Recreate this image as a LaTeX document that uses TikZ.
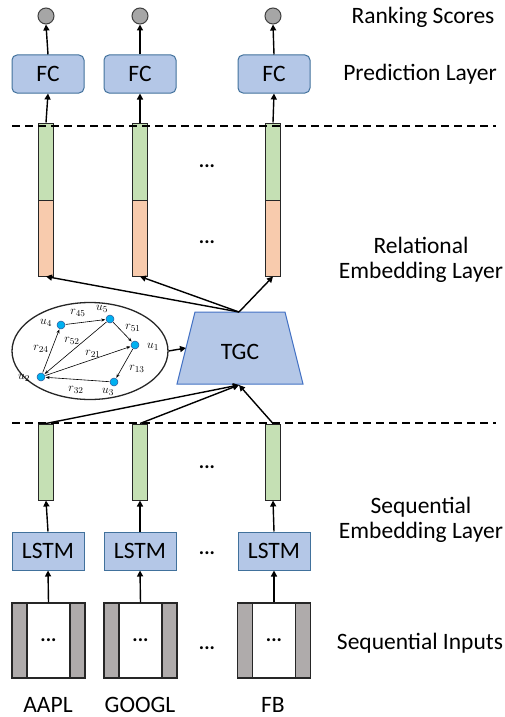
\documentclass[tikz,border=0pt]{standalone}
\usepackage{fontspec}
\setmainfont{Carlito}
\usetikzlibrary{arrows.meta,shapes.geometric}
\definecolor{boxfill}{HTML}{B4C7E7}
\definecolor{boxdraw}{HTML}{41719C}
\definecolor{tgcdraw}{HTML}{4472C4}
\definecolor{gfill}{HTML}{C5E0B4}
\definecolor{ofill}{HTML}{F8CBAD}
\definecolor{scorefill}{HTML}{A6A6A6}
\definecolor{stripfill}{HTML}{AFABAB}
\definecolor{gnode}{HTML}{00B0F0}
\definecolor{gnodedraw}{HTML}{2F5597}
\tikzset{
  big/.style={font=\fontsize{23.5}{25}\selectfont},
  score/.style={circle, draw={black!75}, fill=scorefill, line width=1pt, minimum size=16pt, inner sep=0pt},
  fcbox/.style={draw=boxdraw, fill=boxfill, line width=1pt, rounded corners=5pt, minimum width=72pt, minimum height=38pt, inner sep=0pt, big},
  lstmbox/.style={draw=boxdraw, fill=boxfill, line width=1pt, minimum width=72pt, minimum height=38pt, inner sep=0pt, big},
  gbar/.style={draw=black!85, fill=gfill, line width=1pt, minimum width=15pt, inner sep=0pt},
  obar/.style={draw=black!85, fill=ofill, line width=1pt, minimum width=15pt, inner sep=0pt},
  inbox/.style={draw=black!85, fill=white, line width=1.2pt, minimum width=73pt, minimum height=75pt, inner sep=0pt},
  strip/.style={draw=black!85, fill=stripfill, line width=1.2pt, minimum width=15pt, minimum height=75pt, inner sep=0pt},
  arr/.style={line width=1.4pt, -{Triangle[length=6pt,width=6pt]}},
  dashline/.style={line width=1.3pt, dash pattern=on 8pt off 5pt},
  dots/.style={font=\fontsize{20}{22}\selectfont\bfseries, inner sep=0pt},
  gn/.style={circle, draw=gnodedraw, fill=gnode, line width=0.5pt, minimum size=8pt, inner sep=0pt},
  garr/.style={line width=0.6pt, -{Stealth[length=4pt,width=3pt]}, shorten >=0.5pt, shorten <=0.5pt},
  glab/.style={font=\fontsize{12.5}{13}\selectfont, inner sep=0pt},
  lab/.style={big, align=center, inner sep=0pt},
  tgcshape/.style={draw=tgcdraw, fill=boxfill, line width=1pt, line join=miter},
}
\begin{document}
\begin{tikzpicture}[x=1pt, y=-1pt]
\useasboundingbox (0,0) rectangle (505,717);

% ranking scores
\node[score] (s1) at (46,16) {};
\node[score] (s2) at (140,16) {};
\node[score] (s3) at (273,16) {};
% FC
\node[fcbox] (fc1) at (48,74) {FC};
\node[fcbox] (fc2) at (140,74) {FC};
\node[fcbox] (fc3) at (274,74) {FC};
\foreach \i in {1,2,3} \draw[arr] (fc\i.north) -- (s\i.south);

% relational bars
\foreach \i/\x in {1/46,2/140,3/273} {
  \node[obar, minimum height=153pt] (o\i) at (\x,199.5) {};
  \node[gbar, minimum height=77pt, anchor=north] (g\i) at (o\i.north) {};
}
\foreach \i in {1,2,3} \draw[arr] (g\i.north) -- (fc\i.south);
\node[dots] (d1) at (207,166) {...};
\node[dots] (d2) at (207,242) {...};

% dashed lines
\coordinate (da) at (12,126);
\coordinate (db) at (496,126);
\draw[dashline] (da) -- (db);
\coordinate (dc) at (12,423);
\coordinate (dd) at (496,423);
\draw[dashline] (dc) -- (dd);

% TGC
\coordinate (tgcA) at (195,312);
\coordinate (tgcB) at (285,312);
\coordinate (tgcC) at (303,384);
\coordinate (tgcD) at (177,384);
\coordinate (tgcN) at (239,312);
\coordinate (tgcS) at (239,385);
\coordinate (tgcW) at (186,348);
\draw[tgcshape] (tgcA) -- (tgcB) -- (tgcC) -- (tgcD) -- cycle;
\node[big, inner sep=0pt] (tgc) at (240,352) {TGC};
\foreach \i in {1,2,3} \draw[arr] (tgcN) -- (o\i.south);

% ellipse graph
\node[ellipse, draw=black!85, line width=1.3pt, minimum width=156pt, minimum height=97pt, inner sep=0pt] (ell) at (90,351) {};
\draw[arr] (ell.east) -- (tgcW);
\node[gn] (u4) at (61,325) {};
\node[gn] (u5) at (110,319) {};
\node[gn] (u1) at (135,345) {};
\node[gn] (u3) at (114,382) {};
\node[gn] (u2) at (41,377) {};
\node[glab] (lu4) at (46,323) {$u_4$};
\node[glab] (lu5) at (102,309) {$u_5$};
\node[glab] (lu1) at (153,347) {$u_1$};
\node[glab] (lu3) at (108,392) {$u_3$};
\node[glab] (lu2) at (24,378) {$u_2$};
\draw[garr] (u4) -- (u5);
\draw[garr] (u5) -- (u1);
\draw[garr] (u5) -- (u2);
\draw[garr] (u2) -- (u1);
\draw[garr] (u1) -- (u3);
\draw[garr] (u3) -- (u2);
\draw[garr] (u2) -- (u4);
\node[glab] (r45) at (78,313) {$r_{45}$};
\node[glab] (r51) at (133,328) {$r_{51}$};
\node[glab] (r52) at (72,341) {$r_{52}$};
\node[glab] (r21) at (93,354) {$r_{21}$};
\node[glab] (r13) at (137,369) {$r_{13}$};
\node[glab] (r32) at (76,390) {$r_{32}$};
\node[glab] (r24) at (41,349) {$r_{24}$};

% sequential bars
\node[gbar, minimum height=76pt] (q1) at (46,462) {};
\node[gbar, minimum height=76pt] (q2) at (140,462) {};
\node[gbar, minimum height=76pt] (q3) at (273,462) {};
\foreach \i in {1,2,3} \draw[arr] (q\i.north) -- (tgcS);
\node[dots] (d3) at (207,467) {...};

% LSTM
\node[lstmbox] (l1) at (48,551) {LSTM};
\node[lstmbox] (l2) at (140,551) {LSTM};
\node[lstmbox] (l3) at (274,551) {LSTM};
\foreach \i in {1,2,3} \draw[arr] (l\i.north) -- (q\i.south);
\node[dots] (d4) at (207,553) {...};

% inputs
\node[inbox] (in1) at (48.5,640.5) {};
\node[inbox] (in2) at (140.5,640.5) {};
\node[inbox] (in3) at (274,640.5) {};
\foreach \i in {1,2,3} {
  \node[strip, anchor=north west] (in\i l) at (in\i.north west) {};
  \node[strip, anchor=north east] (in\i r) at (in\i.north east) {};
  \node[dots] (in\i d) at (in\i.center) {...};
  \draw[arr] (in\i.north) -- (l\i.south);
}
\node[dots] (d5) at (207,648) {...};

\node[big, inner sep=0pt] (t1) at (48,705) {AAPL};
\node[big, inner sep=0pt] (t2) at (140,705) {GOOGL};
\node[big, inner sep=0pt] (t3) at (273,705) {FB};

% right labels
\node[lab] (n1) at (423,17) {Ranking Scores};
\node[lab] (n2) at (420,74) {Prediction Layer};
\node[lab] (n3) at (421,260) {Relational\\Embedding Layer};
\node[lab] (n4) at (421,520) {Sequential\\Embedding Layer};
\node[lab] (n5) at (420,643) {Sequential Inputs};
\end{tikzpicture}
\end{document}
